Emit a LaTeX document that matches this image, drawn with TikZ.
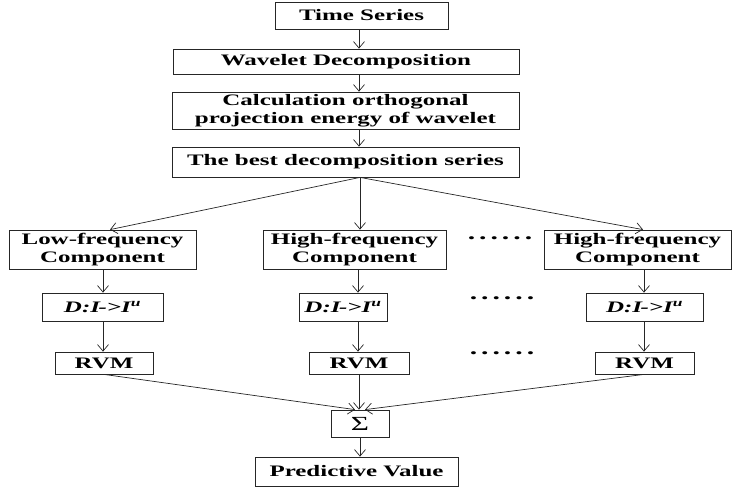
\documentclass[tikz,border=0pt]{standalone}
\usepackage{fontspec}
\setmainfont{Liberation Serif}[FakeStretch=1.56]
\usetikzlibrary{arrows.meta,calc}
\newcommand{\sixdots}{.\hskip4.0pt.\hskip4.0pt.\hskip4.0pt.\hskip4.0pt.\hskip4.0pt.}
\newcommand{\dmap}{\textbf{\textit{D:I\kern-1.5pt->I\textsuperscript{u}}}}
\begin{document}
\begin{tikzpicture}[x=1pt,y=-1pt,
  box/.style={draw=black!85,line width=0.8pt,inner sep=0pt,align=center,
    font=\fontsize{16}{18.5}\selectfont\bfseries},
  arr/.style={draw=black!85,line width=0.7pt,-{Straight Barb[length=6.5pt,width=11pt]}},
  dotsnode/.style={inner sep=0pt,font=\fontsize{19}{20}\selectfont\bfseries}]
\useasboundingbox (0,0) rectangle (735,488);
\node[box,minimum width=173,minimum height=27] (ts) at (361.5,15.5) {Time Series};
\node[box,minimum width=346,minimum height=25] (wd) at (346,61.5) {Wavelet Decomposition};
\node[box,minimum width=347,minimum height=37] (calc) at (345.5,110.5) {Calculation orthogonal\\projection energy of wavelet};
\node[box,minimum width=347,minimum height=30] (best) at (345.5,162) {The best decomposition series};
\node[box,minimum width=187,minimum height=39] (low) at (102.5,249.5) {Low-frequency\\Component};
\node[box,minimum width=183,minimum height=39] (hf1) at (354.5,249.5) {High-frequency\\Component};
\node[box,minimum width=187,minimum height=39] (hf2) at (637.5,249.5) {High-frequency\\Component};
\node[box,minimum width=121,minimum height=28] (d1) at (102.5,307) {\dmap};
\node[box,minimum width=88,minimum height=28] (d2) at (343,307) {\dmap};
\node[box,minimum width=117,minimum height=28] (d3) at (644.5,307) {\dmap};
\node[box,minimum width=98,minimum height=22] (r1) at (104,363) {RVM};
\node[box,minimum width=100,minimum height=22] (r2) at (359,363) {RVM};
\node[box,minimum width=99,minimum height=22] (r3) at (644.5,363) {RVM};
\node[box,minimum width=58,minimum height=27,font=\fontsize{20}{21}\selectfont] (sig) at (360,423.5) {Σ};
\node[box,minimum width=203,minimum height=29] (pv) at (356.5,471.5) {Predictive Value};
\node[dotsnode] (dots1) at (500,238) {\sixdots};
\node[dotsnode] (dots2) at (502,298) {\sixdots};
\node[dotsnode] (dots3) at (502,353) {\sixdots};
% top chain
\draw[arr] ([xshift=-2.5pt]ts.south) -- ([xshift=-2.5pt]ts.south |- wd.north);
\draw[arr] ([xshift=13pt]wd.south) -- ([xshift=13pt]wd.south |- calc.north);
\draw[arr] ([xshift=13.5pt]calc.south) -- ([xshift=13.5pt]calc.south |- best.north);
% fan out
\coordinate (fan) at ([xshift=14.5pt]best.south);
\draw[arr] (fan) -- ([xshift=7.5pt]low.north);
\draw[arr] (fan) -- (fan |- hf1.north);
\draw[arr] (fan) -- ([xshift=5.5pt]hf2.north);
% columns
\draw[arr] ([xshift=0.5pt]low.south) -- ([xshift=0.5pt]low.south |- d1.north);
\draw[arr] ([xshift=0.5pt]d1.south) -- ([xshift=0.5pt]d1.south |- r1.north);
\draw[arr] ([xshift=3.5pt]hf1.south) -- ([xshift=3.5pt]hf1.south |- d2.north);
\draw[arr] ([xshift=15pt]d2.south) -- ([xshift=15pt]d2.south |- r2.north);
\draw[arr] ([xshift=6.5pt]hf2.south) -- ([xshift=6.5pt]hf2.south |- d3.north);
\draw[arr] ([xshift=-0.5pt]d3.south) -- ([xshift=-0.5pt]d3.south |- r3.north);
% merge
\draw[arr] (r1.south) -- ([xshift=-5pt]sig.north);
\draw[arr] (r2.south) -- (r2.south |- sig.north);
\draw[arr] ([xshift=-0.5pt]r3.south) -- ([xshift=5pt]sig.north);
\draw[arr] (sig.south) -- (sig.south |- pv.north);
\end{tikzpicture}
\end{document}
